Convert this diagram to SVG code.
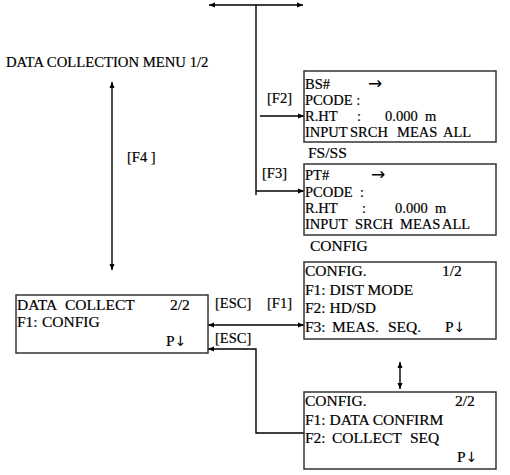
<svg xmlns="http://www.w3.org/2000/svg" width="510" height="475" viewBox="0 0 510 475">
<defs>
<marker id="ah" viewBox="0 0 6 6" refX="6" refY="3" markerWidth="6" markerHeight="6" markerUnits="userSpaceOnUse" orient="auto-start-reverse">
<path d="M0,0.5 L6,3 L0,5.5 Z" fill="#000"/>
</marker>
<style>
text{font-family:"Liberation Serif","Times New Roman",serif;font-size:14.5px;fill:#000;stroke:#000;stroke-width:0.2;white-space:pre}
.big{font-size:15.5px}
.m{font-size:15.5px}
.ar{font-family:"DejaVu Sans",sans-serif;font-size:14px;stroke-width:0}
.ra{font-family:"DejaVu Sans",sans-serif;font-size:17px;stroke-width:0}
.box{fill:#fff;stroke:#333;stroke-width:1.5}
.ln{fill:none;stroke:#000;stroke-width:1.4}
</style>
</defs>
<rect width="510" height="475" fill="#fff"/>
<g id="connectors">
<line class="ln" x1="209" y1="5" x2="303" y2="5" marker-start="url(#ah)" marker-end="url(#ah)"/>
<line class="ln" x1="256" y1="5" x2="256" y2="195"/>
<line class="ln" x1="260" y1="116" x2="304" y2="116" marker-end="url(#ah)"/>
<line class="ln" x1="256" y1="191" x2="304" y2="191" marker-end="url(#ah)"/>
<line class="ln" x1="112" y1="82" x2="112" y2="270" marker-start="url(#ah)" marker-end="url(#ah)"/>
<line class="ln" x1="208" y1="325" x2="304" y2="325" marker-start="url(#ah)" marker-end="url(#ah)"/>
<polyline class="ln" points="304,433 256,433 256,349 208,349" marker-end="url(#ah)"/>
<line class="ln" x1="400" y1="362" x2="400" y2="389" marker-start="url(#ah)" marker-end="url(#ah)"/>
<text x="267" y="103">[F2]</text>
<text x="262" y="178">[F3]</text>
<text x="127" y="162">[F4 ]</text>
<text x="215" y="308">[ESC]</text>
<text x="267" y="308">[F1]</text>
<text x="215" y="343">[ESC]</text>
</g>
<g id="menu-title">
<text x="6" y="67" style="font-size:14.7px">DATA COLLECTION MENU 1/2</text>
</g>
<g id="bs-screen">
<rect class="box" x="304" y="71" width="192" height="71"/>
<text x="305" y="89">BS#</text><text class="ra" x="368" y="89">→</text>
<text x="305" y="105">PCODE :</text>
<text x="305" y="121">R.HT</text><text x="357" y="121">:</text><text x="385" y="121">0.000</text><text x="425" y="121">m</text>
<text x="305" y="137">INPUT</text><text x="350" y="137">SRCH</text><text x="397" y="137">MEAS</text><text x="443" y="137">ALL</text>
</g>
<g id="fsss-label">
<text class="big" x="308" y="158">FS/SS</text>
</g>
<g id="pt-screen">
<rect class="box" x="304" y="164" width="192" height="71"/>
<text x="305" y="180">PT#</text><text class="ra" x="371" y="180">→</text>
<text x="305" y="197">PCODE</text><text x="360" y="197">:</text>
<text x="305" y="213">R.HT</text><text x="362" y="213">:</text><text x="395" y="213">0.000</text><text x="435" y="213">m</text>
<text x="305" y="229">INPUT</text><text x="355" y="229">SRCH</text><text x="400" y="229">MEAS</text><text x="442" y="229">ALL</text>
</g>
<g id="config-label">
<text class="big" x="310" y="251">CONFIG</text>
</g>
<g id="data-collect">
<rect class="box" x="16" y="295" width="192" height="58"/>
<text class="m" x="17" y="310">DATA</text><text class="m" x="65" y="310">COLLECT</text><text class="m" x="170" y="310">2/2</text>
<text class="m" x="17" y="327">F1:</text><text class="m" x="42" y="327">CONFIG</text>
<text class="m" x="166" y="346">P<tspan class="ar">↓</tspan></text>
</g>
<g id="config-1">
<rect class="box" x="304" y="262" width="192" height="77"/>
<text class="m" x="305" y="276">CONFIG.</text><text class="m" x="442" y="276">1/2</text>
<text class="m" x="305" y="295">F1: DIST MODE</text>
<text class="m" x="305" y="313">F2: HD/SD</text>
<text class="m" x="305" y="332">F3:</text><text class="m" x="332" y="332">MEAS.</text><text class="m" x="388" y="332">SEQ.</text><text class="m" x="445" y="332">P<tspan class="ar">↓</tspan></text>
</g>
<g id="config-2">
<rect class="box" x="304" y="392" width="192" height="77"/>
<text class="m" x="305" y="406">CONFIG.</text><text class="m" x="455" y="406">2/2</text>
<text class="m" x="305" y="425">F1: DATA CONFIRM</text>
<text class="m" x="305" y="443">F2:</text><text class="m" x="332" y="443">COLLECT</text><text class="m" x="410" y="443">SEQ</text>
<text class="m" x="457" y="462">P<tspan class="ar">↓</tspan></text>
</g>
</svg>
